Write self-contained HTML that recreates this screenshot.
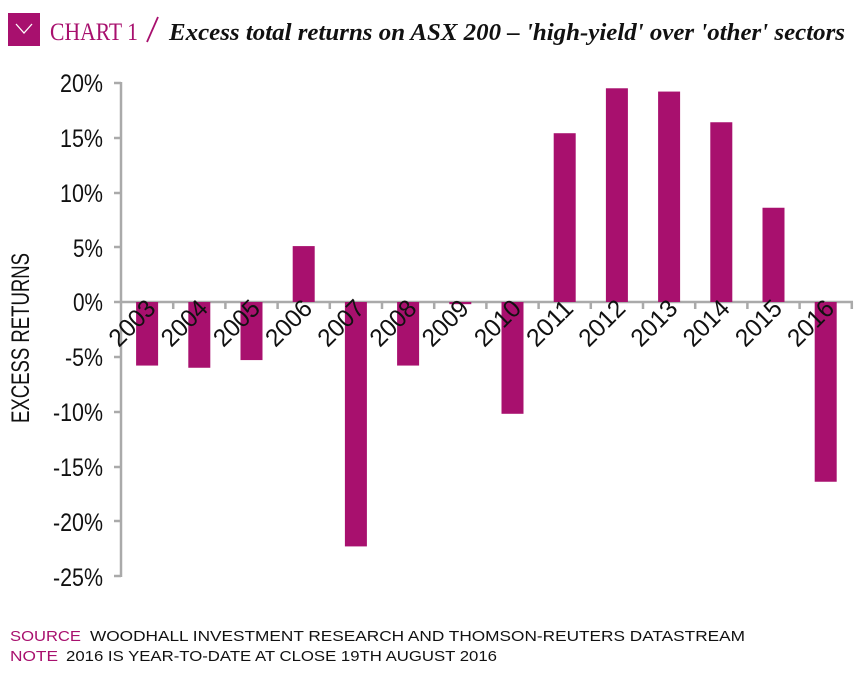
<!DOCTYPE html>
<html><head><style>
body{margin:0;background:#fff;width:864px;height:675px;overflow:hidden;font-family:"Liberation Sans",sans-serif}
</style></head><body>
<svg width="864" height="675" style="position:absolute;left:0;top:0">
<rect x="8" y="13" width="32" height="33" fill="#a8106e"/>
<polyline points="16,24 24,33 32,24" fill="none" stroke="#fff" stroke-width="1.3"/>
<text x="50" y="40" font-family="Liberation Serif" font-size="25" fill="#a8106e" textLength="88" lengthAdjust="spacingAndGlyphs">CHART 1</text>
<line x1="147" y1="42" x2="158" y2="17" stroke="#a8106e" stroke-width="1.8"/>
<text x="169" y="40" font-family="Liberation Serif" font-size="24" font-style="italic" font-weight="bold" fill="#111" textLength="676" lengthAdjust="spacingAndGlyphs">Excess total returns on ASX 200 – 'high-yield' over 'other' sectors</text>
<g font-size="25" fill="#111" text-anchor="end" lengthAdjust="spacingAndGlyphs">
<text x="103" y="92" textLength="43" lengthAdjust="spacingAndGlyphs">20%</text><text x="103" y="147" textLength="43" lengthAdjust="spacingAndGlyphs">15%</text><text x="103" y="202" textLength="43" lengthAdjust="spacingAndGlyphs">10%</text>
<text x="103" y="257" textLength="30" lengthAdjust="spacingAndGlyphs">5%</text><text x="103" y="311" textLength="30" lengthAdjust="spacingAndGlyphs">0%</text><text x="103" y="366" textLength="38" lengthAdjust="spacingAndGlyphs">-5%</text>
<text x="103" y="421" textLength="50" lengthAdjust="spacingAndGlyphs">-10%</text><text x="103" y="476" textLength="50" lengthAdjust="spacingAndGlyphs">-15%</text><text x="103" y="531" textLength="50" lengthAdjust="spacingAndGlyphs">-20%</text><text x="103" y="586" textLength="50" lengthAdjust="spacingAndGlyphs">-25%</text>
</g>
<text transform="translate(29,338) rotate(-90)" font-size="25" fill="#111" text-anchor="middle" textLength="170" lengthAdjust="spacingAndGlyphs">EXCESS RETURNS</text>
<g stroke="#aaa" stroke-width="2.5">
<line x1="121" y1="82" x2="121" y2="577"/>
<line x1="114" y1="83" x2="121" y2="83"/><line x1="114" y1="138" x2="121" y2="138"/><line x1="114" y1="193" x2="121" y2="193"/><line x1="114" y1="247" x2="121" y2="247"/><line x1="114" y1="357" x2="121" y2="357"/><line x1="114" y1="412" x2="121" y2="412"/><line x1="114" y1="467" x2="121" y2="467"/><line x1="114" y1="521" x2="121" y2="521"/><line x1="114" y1="576" x2="121" y2="576"/>
<line x1="114" y1="302" x2="853" y2="302"/>
</g>
<g id="bars" fill="#a8106e"></g>
<g id="ticks" stroke="#aaa" stroke-width="2.5"></g>
<g id="labels" font-size="25" fill="#111"></g>
<text x="10" y="641" font-size="15" fill="#a8106e" textLength="71" lengthAdjust="spacingAndGlyphs">SOURCE</text>
<text x="90" y="641" font-size="15" fill="#111" textLength="655" lengthAdjust="spacingAndGlyphs">WOODHALL INVESTMENT RESEARCH AND THOMSON-REUTERS DATASTREAM</text>
<text x="10" y="661" font-size="15" fill="#a8106e" textLength="48" lengthAdjust="spacingAndGlyphs">NOTE</text>
<text x="66" y="661" font-size="15" fill="#111" textLength="431" lengthAdjust="spacingAndGlyphs">2016 IS YEAR-TO-DATE AT CLOSE 19TH AUGUST 2016</text>
</svg>
<script>
var v=[-5.8,-6.0,-5.3,5.1,-22.3,-5.8,-0.2,-10.2,15.4,19.5,19.2,16.4,8.6,-16.4];
var ns="http://www.w3.org/2000/svg",b=document.getElementById('bars'),t=document.getElementById('ticks'),l=document.getElementById('labels');
for(var i=0;i<14;i++){var c=121+52.2*(i+0.5),y0=302,h=v[i]*10.96;
var r=document.createElementNS(ns,'rect');r.setAttribute('x',c-11);r.setAttribute('width',22);
r.setAttribute('y',h>0?y0-h:y0);r.setAttribute('height',Math.max(Math.abs(h),1.5));b.appendChild(r);
var k=document.createElementNS(ns,'line');var tx=121+52.2*(i+1);k.setAttribute('x1',tx);k.setAttribute('x2',tx);k.setAttribute('y1',302);k.setAttribute('y2',309);t.appendChild(k);
var s=document.createElementNS(ns,'text');s.setAttribute('transform','translate('+(c+10)+',310) rotate(-45)');s.setAttribute('text-anchor','end');s.setAttribute('textLength','54');s.setAttribute('lengthAdjust','spacingAndGlyphs');s.textContent=2003+i;l.appendChild(s);}
</script>
</body></html>
